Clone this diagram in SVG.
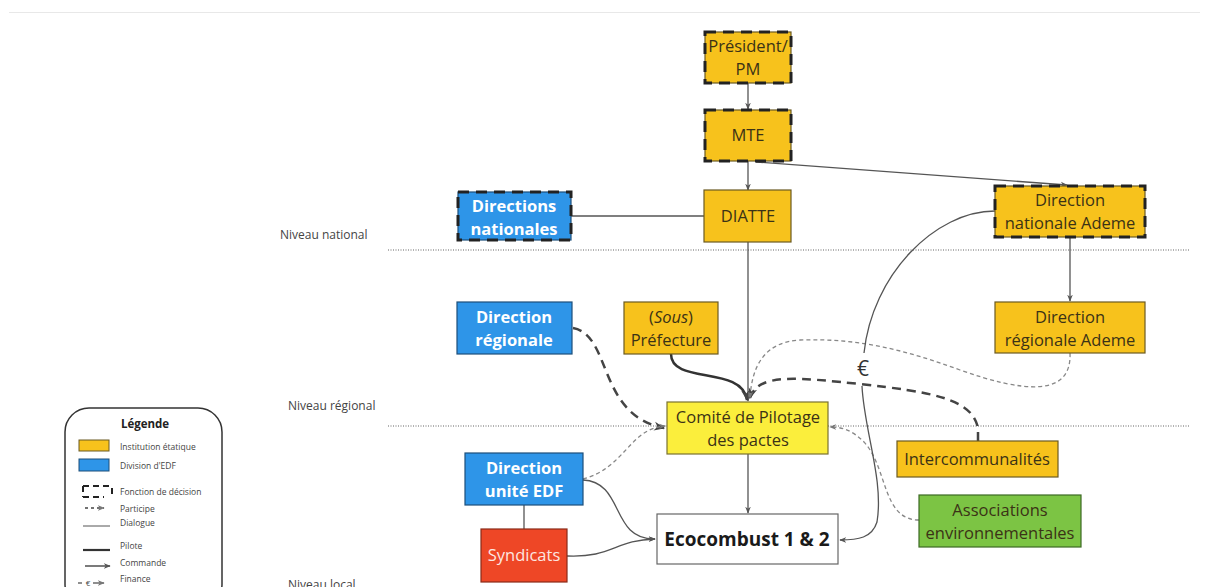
<svg xmlns="http://www.w3.org/2000/svg" width="1208" height="587" viewBox="0 0 1208 587">
<defs>
<marker id="arr" viewBox="0 0 10 10" refX="9" refY="5" markerWidth="7" markerHeight="7" orient="auto-start-reverse" markerUnits="userSpaceOnUse"><path d="M0,1 L10,5 L0,9 L3,5 Z" fill="#555"/></marker>
<marker id="arrB" viewBox="0 0 10 10" refX="9" refY="5" markerWidth="11" markerHeight="11" orient="auto" markerUnits="userSpaceOnUse"><path d="M0,1 L10,5 L0,9 L3,5 Z" fill="#444"/></marker>
<marker id="arrS" viewBox="0 0 10 10" refX="9" refY="5" markerWidth="7" markerHeight="7" orient="auto" markerUnits="userSpaceOnUse"><path d="M0,1 L10,5 L0,9 L3,5 Z" fill="#777"/></marker>
</defs>
<style>
text{font-family:"Open Sans","Noto Sans","Liberation Sans",sans-serif;}
.or{fill:#F7C21C;stroke:#6b5a22;stroke-width:1.2;}
.bl{fill:#2E95E8;stroke:#1d4f7a;stroke-width:1.2;}
.dec{stroke:#222;stroke-width:3;stroke-dasharray:11 7;}
.t{font-size:16.5px;fill:#3b3216;text-anchor:middle;}
.tw{font-size:16.5px;fill:#fff;font-weight:bold;text-anchor:middle;}
.lvl{font-size:12px;fill:#444;}
.sep{stroke:#999;stroke-width:1.3;stroke-dasharray:1 1.5;fill:none;}
.cmd{stroke:#555;stroke-width:1.3;fill:none;marker-end:url(#arr);}
.dia{stroke:#555;stroke-width:1.3;fill:none;}
.pil{stroke:#333;stroke-width:2.5;fill:none;marker-end:url(#arrB);}
.par{stroke:#444;stroke-width:2.5;stroke-dasharray:9 6;fill:none;marker-end:url(#arrB);}
.parT{stroke:#888;stroke-width:1.3;stroke-dasharray:4 3;fill:none;marker-end:url(#arrS);}
.lg{font-size:8.5px;fill:#444;}
</style>
<rect width="1208" height="587" fill="#fff"/>
<line x1="9" y1="12.5" x2="1200" y2="12.5" stroke="#e8e8e8" stroke-width="1.2"/>

<g id="levels">
<line class="sep" x1="388" y1="250" x2="1190" y2="250"/>
<line class="sep" x1="388" y1="426" x2="1190" y2="426"/>
<text class="lvl" x="280" y="239">Niveau national</text>
<text class="lvl" x="288" y="410">Niveau régional</text>
<text class="lvl" x="288" y="589">Niveau local</text>
</g>

<g id="connectors">
<line class="cmd" x1="748" y1="83" x2="748" y2="109"/>
<line class="cmd" x1="748" y1="161" x2="748" y2="190"/>
<path class="cmd" d="M756,162 L1067,185"/>
<line class="dia" x1="571" y1="216" x2="704" y2="216"/>
<line class="cmd" x1="1070" y1="237" x2="1070" y2="301"/>
<line class="cmd" x1="748" y1="242" x2="748" y2="401"/>
<path class="pil" d="M671,354 C671,385 742,365 747,400"/>
<path class="par" d="M573,328 C612,335 597,415 664,428"/>
<path class="parT" d="M583,479 C625,468 630,428 665,426"/>
<path class="cmd" d="M583,480 C625,482 610,540 655,539"/>
<path class="cmd" d="M567,556 C612,558 615,540 655,539"/>
<line class="dia" x1="524" y1="505" x2="524" y2="529"/>
<line class="cmd" x1="748" y1="454" x2="748" y2="513"/>
<path class="par" d="M978,441 L978,428 C972,398 930,392 860,384 C800,378 758,372 750,398"/>
<path class="parT" d="M1070,353 C1072,398 1022,392 960,370 C905,350 860,338 800,340 C765,342 752,365 750,398"/>
<path class="parT" d="M919,520 C882,520 888,468 864,442 C852,430 842,427 830,427"/>
<path class="dia" d="M995,211 C935,211 872,275 864,353"/>
<path class="cmd" d="M862,386 C864,430 884,480 877,522 C872,538 858,540 840,540"/>
<text x="863" y="376" font-size="21" fill="#333" text-anchor="middle">€</text>
</g>

<g id="president">
<rect class="or" x="705" y="32" width="86" height="51"/>
<rect x="705" y="32" width="86" height="51" fill="none" class="dec"/>
<text class="t" x="748" y="52">Président/</text>
<text class="t" x="748" y="75">PM</text>
</g>
<g id="mte">
<rect class="or" x="705" y="110" width="86" height="51"/>
<rect x="705" y="110" width="86" height="51" fill="none" class="dec"/>
<text class="t" x="748" y="141">MTE</text>
</g>
<g id="diatte">
<rect class="or" x="704" y="190" width="87" height="52"/>
<text class="t" x="748" y="222">DIATTE</text>
</g>
<g id="directions-nationales">
<rect class="bl" x="458" y="192" width="113" height="48"/>
<rect x="458" y="192" width="113" height="48" fill="none" class="dec"/>
<text class="tw" x="514" y="212">Directions</text>
<text class="tw" x="514" y="235">nationales</text>
</g>
<g id="dn-ademe">
<rect class="or" x="995" y="186" width="150" height="51"/>
<rect x="995" y="186" width="150" height="51" fill="none" class="dec"/>
<text class="t" x="1070" y="206">Direction</text>
<text class="t" x="1070" y="229">nationale Ademe</text>
</g>
<g id="dr-ademe">
<rect class="or" x="995" y="302" width="150" height="51"/>
<text class="t" x="1070" y="323">Direction</text>
<text class="t" x="1070" y="346">régionale Ademe</text>
</g>
<g id="direction-regionale">
<rect class="bl" x="457" y="302" width="115" height="52"/>
<text class="tw" x="514" y="323">Direction</text>
<text class="tw" x="514" y="346">régionale</text>
</g>
<g id="prefecture">
<rect class="or" x="624" y="302" width="94" height="52"/>
<text class="t" x="671" y="323">(<tspan font-style="italic">Sous</tspan>)</text>
<text class="t" x="671" y="346">Préfecture</text>
</g>
<g id="comite">
<rect x="667" y="402" width="161" height="52" fill="#FBEE3C" stroke="#7a7230" stroke-width="1.2"/>
<text class="t" x="748" y="423">Comité de Pilotage</text>
<text class="t" x="748" y="446">des pactes</text>
</g>
<g id="direction-unite">
<rect class="bl" x="465" y="453" width="118" height="52"/>
<text class="tw" x="524" y="474">Direction</text>
<text class="tw" x="524" y="497">unité EDF</text>
</g>
<g id="syndicats">
<rect x="481" y="529" width="86" height="53" fill="#EE4726" stroke="#8a2a18" stroke-width="1.2"/>
<text x="524" y="561" font-size="16.5" fill="#fde6e0" text-anchor="middle">Syndicats</text>
</g>
<g id="ecocombust">
<rect x="657" y="514" width="181" height="50" fill="#fff" stroke="#666" stroke-width="1.2"/>
<text x="747" y="546" font-size="19" font-weight="bold" fill="#1a1a1a" text-anchor="middle">Ecocombust 1 &amp; 2</text>
</g>
<g id="intercommunalites">
<rect class="or" x="897" y="441" width="161" height="36"/>
<text class="t" x="977" y="465">Intercommunalités</text>
</g>
<g id="associations">
<rect x="919" y="495" width="162" height="52" fill="#7CC444" stroke="#3d6a24" stroke-width="1.2"/>
<text class="t" x="1000" y="516" fill="#1f3a12">Associations</text>
<text class="t" x="1000" y="539" fill="#1f3a12">environnementales</text>
</g>

<g id="legend">
<rect x="65" y="408" width="157" height="200" rx="24" fill="#fff" stroke="#333" stroke-width="1.5"/>
<text x="145" y="428" font-size="11.5" font-weight="bold" fill="#222" text-anchor="middle">Légende</text>
<rect x="79" y="440" width="30" height="11" fill="#F7C21C" stroke="#6b5a22" stroke-width="1"/>
<text class="lg" x="120" y="450">Institution étatique</text>
<rect x="79" y="459" width="30" height="12" fill="#2E95E8" stroke="#1d4f7a" stroke-width="1"/>
<text class="lg" x="120" y="469">Division d'EDF</text>
<path d="M83,486 L111,486 M83,497 L104,497 M112,488 L112,498 M83,486 L83,497" stroke="#222" stroke-width="2" stroke-dasharray="6 4" fill="none"/>
<text class="lg" x="120" y="495">Fonction de décision</text>
<path d="M85,508 L104,508" stroke="#444" stroke-width="1.3" stroke-dasharray="3 3" fill="none" marker-end="url(#arrS)"/>
<text class="lg" x="120" y="512">Participe</text>
<line x1="83" y1="526" x2="110" y2="526" stroke="#555" stroke-width="1"/>
<text class="lg" x="120" y="526">Dialogue</text>
<line x1="83" y1="550" x2="110" y2="550" stroke="#333" stroke-width="2.2"/>
<text class="lg" x="120" y="549">Pilote</text>
<path d="M85,566 L110,566" stroke="#333" stroke-width="1.3" fill="none" marker-end="url(#arr)"/>
<text class="lg" x="120" y="566">Commande</text>
<path d="M78,583 L82,583" stroke="#444" stroke-width="1.2"/>
<text x="88" y="586" font-size="8" fill="#444" text-anchor="middle">€</text>
<path d="M93,583 L104,583" stroke="#444" stroke-width="1.2" fill="none" marker-end="url(#arrS)"/>
<text class="lg" x="120" y="582">Finance</text>
</g>
</svg>
